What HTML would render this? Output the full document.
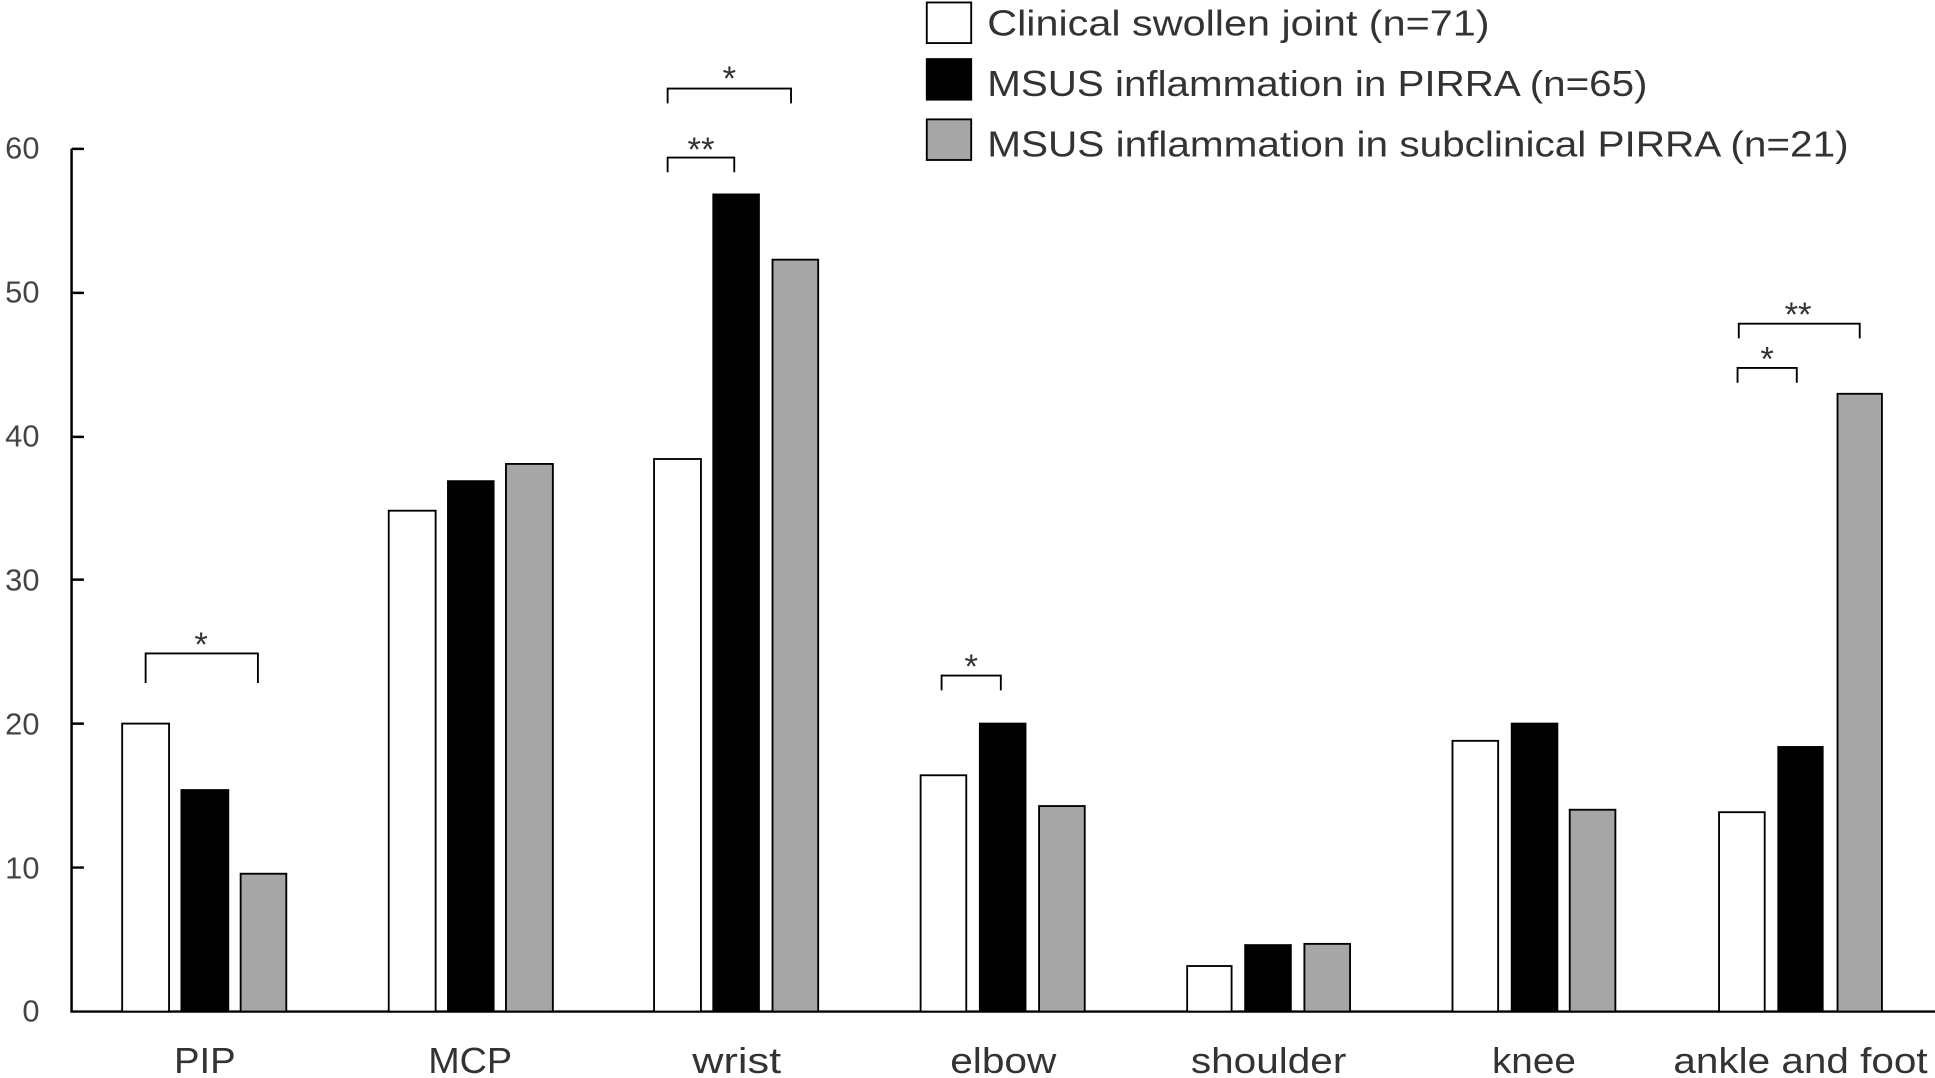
<!DOCTYPE html>
<html><head><style>html,body{margin:0;padding:0;background:#fff}svg{display:block}</style></head>
<body>
<svg width="1935" height="1078" viewBox="0 0 1568 876" preserveAspectRatio="none" xmlns="http://www.w3.org/2000/svg" font-family="Liberation Sans, Noto Sans CJK JP, sans-serif" fill="#333">
<g stroke="#000" stroke-width="2" fill="none">
<path d="M58,121 V822 H1568"/>
<path d="M58,121h10M58,238h10M58,355h10M58,471h10M58,588h10M58,705h10"/>
</g>
<g font-size="25" text-anchor="end" fill="#444">
<text x="32" y="129">60</text><text x="32" y="246">50</text><text x="32" y="363">40</text>
<text x="32" y="480">30</text><text x="32" y="597">20</text><text x="32" y="714">10</text><text x="32" y="830">0</text>
</g>
<g stroke="#000" stroke-width="1.5">
<rect x="99" y="588" width="38" height="234" fill="#fff"/><rect x="147" y="642" width="38" height="180" fill="#000"/><rect x="195" y="710" width="37" height="112" fill="#a6a6a6"/>
<rect x="315" y="415" width="38" height="407" fill="#fff"/><rect x="363" y="391" width="37" height="431" fill="#000"/><rect x="410" y="377" width="38" height="445" fill="#a6a6a6"/>
<rect x="530" y="373" width="38" height="449" fill="#fff"/><rect x="578" y="158" width="37" height="664" fill="#000"/><rect x="626" y="211" width="37" height="611" fill="#a6a6a6"/>
<rect x="746" y="630" width="37" height="192" fill="#fff"/><rect x="794" y="588" width="37" height="234" fill="#000"/><rect x="842" y="655" width="37" height="167" fill="#a6a6a6"/>
<rect x="962" y="785" width="36" height="37" fill="#fff"/><rect x="1009" y="768" width="37" height="54" fill="#000"/><rect x="1057" y="767" width="37" height="55" fill="#a6a6a6"/>
<rect x="1177" y="602" width="37" height="220" fill="#fff"/><rect x="1225" y="588" width="37" height="234" fill="#000"/><rect x="1272" y="658" width="37" height="164" fill="#a6a6a6"/>
<rect x="1393" y="660" width="37" height="162" fill="#fff"/><rect x="1441" y="607" width="36" height="215" fill="#000"/><rect x="1489" y="320" width="36" height="502" fill="#a6a6a6"/>
</g>
<g font-size="29" text-anchor="middle" fill="#333">
<text x="166" y="872" textLength="50" lengthAdjust="spacingAndGlyphs">PIP</text>
<text x="381" y="872" textLength="68" lengthAdjust="spacingAndGlyphs">MCP</text>
<text x="597" y="872" textLength="72" lengthAdjust="spacingAndGlyphs">wrist</text>
<text x="813" y="872" textLength="86" lengthAdjust="spacingAndGlyphs">elbow</text>
<text x="1028" y="872" textLength="126" lengthAdjust="spacingAndGlyphs">shoulder</text>
<text x="1243" y="872" textLength="68" lengthAdjust="spacingAndGlyphs">knee</text>
<text x="1459" y="872" textLength="206" lengthAdjust="spacingAndGlyphs">ankle and foot</text>
</g>
<g stroke="#000" stroke-width="1.5" fill="none">
<path d="M118,555V531H209V555"/>
<path d="M541,140V128H595V140"/>
<path d="M541,84V72H641V84"/>
<path d="M763,561V549H811V561"/>
<path d="M1408,311V299H1456V311"/>
<path d="M1409,275V263H1507V275"/>
</g>
<g font-size="28" text-anchor="middle" fill="#333">
<text x="163" y="533">*</text><text x="568" y="131">**</text><text x="591" y="73">*</text>
<text x="787" y="551">*</text><text x="1432" y="301">*</text><text x="1457" y="265">**</text>
</g>
<g stroke="#000" stroke-width="1.5">
<rect x="751" y="2" width="36" height="33" fill="#fff"/>
<rect x="751" y="48" width="36" height="33" fill="#000"/>
<rect x="751" y="97" width="36" height="33" fill="#a6a6a6"/>
</g>
<g font-size="29" fill="#333">
<text x="800" y="29" textLength="407" lengthAdjust="spacingAndGlyphs">Clinical swollen joint (n=71)</text>
<text x="800" y="78" textLength="535" lengthAdjust="spacingAndGlyphs">MSUS inflammation in PIRRA (n=65)</text>
<text x="800" y="127" textLength="698" lengthAdjust="spacingAndGlyphs">MSUS inflammation in subclinical PIRRA (n=21)</text>
</g>
</svg>
</body></html>
